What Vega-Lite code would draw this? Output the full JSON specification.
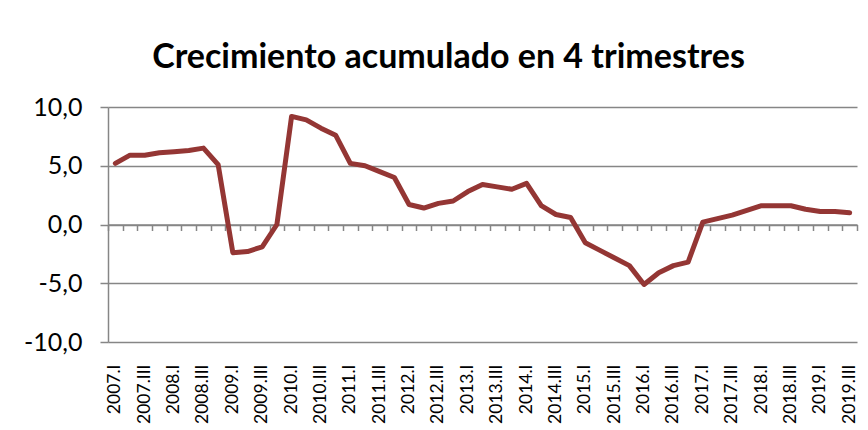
{
  "$schema": "https://vega.github.io/schema/vega-lite/v6.json",
  "width": 749,
  "height": 235,
  "autosize": "none",
  "padding": {"left": 108, "top": 107, "right": 11, "bottom": 88},
  "background": "white",
  "title": {
    "text": "Crecimiento acumulado en 4 trimestres",
    "font": "Lato",
    "fontSize": 34,
    "fontWeight": "bold",
    "color": "black",
    "anchor": "middle",
    "dx": -34,
    "offset": 20
  },
  "config": {
    "view": {"stroke": null},
    "axis": {"labelFont": "Lato", "labelColor": "black"}
  },
  "data": {
    "values": [
      {"q": "2007.I", "v": 5.2}, {"q": "2007.II", "v": 5.9}, {"q": "2007.III", "v": 5.9}, {"q": "2007.IV", "v": 6.1},
      {"q": "2008.I", "v": 6.2}, {"q": "2008.II", "v": 6.3}, {"q": "2008.III", "v": 6.5}, {"q": "2008.IV", "v": 5.1},
      {"q": "2009.I", "v": -2.4}, {"q": "2009.II", "v": -2.3}, {"q": "2009.III", "v": -1.9}, {"q": "2009.IV", "v": 0.0},
      {"q": "2010.I", "v": 9.2}, {"q": "2010.II", "v": 8.9}, {"q": "2010.III", "v": 8.2}, {"q": "2010.IV", "v": 7.6},
      {"q": "2011.I", "v": 5.2}, {"q": "2011.II", "v": 5.0}, {"q": "2011.III", "v": 4.5}, {"q": "2011.IV", "v": 4.0},
      {"q": "2012.I", "v": 1.7}, {"q": "2012.II", "v": 1.4}, {"q": "2012.III", "v": 1.8}, {"q": "2012.IV", "v": 2.0},
      {"q": "2013.I", "v": 2.8}, {"q": "2013.II", "v": 3.4}, {"q": "2013.III", "v": 3.2}, {"q": "2013.IV", "v": 3.0},
      {"q": "2014.I", "v": 3.5}, {"q": "2014.II", "v": 1.6}, {"q": "2014.III", "v": 0.85}, {"q": "2014.IV", "v": 0.6},
      {"q": "2015.I", "v": -1.55}, {"q": "2015.II", "v": -2.2}, {"q": "2015.III", "v": -2.85}, {"q": "2015.IV", "v": -3.5},
      {"q": "2016.I", "v": -5.1}, {"q": "2016.II", "v": -4.1}, {"q": "2016.III", "v": -3.5}, {"q": "2016.IV", "v": -3.2},
      {"q": "2017.I", "v": 0.2}, {"q": "2017.II", "v": 0.5}, {"q": "2017.III", "v": 0.8}, {"q": "2017.IV", "v": 1.2},
      {"q": "2018.I", "v": 1.6}, {"q": "2018.II", "v": 1.6}, {"q": "2018.III", "v": 1.6}, {"q": "2018.IV", "v": 1.3},
      {"q": "2019.I", "v": 1.1}, {"q": "2019.II", "v": 1.1}, {"q": "2019.III", "v": 1.0}
    ]
  },
  "encoding": {
    "y": {
      "field": "v", "type": "quantitative",
      "scale": {"domain": [-10, 10], "nice": false, "zero": false},
      "axis": {
        "title": null, "values": [-10, -5, 0, 5, 10],
        "labelExpr": "replace(replace(format(datum.value, '.1f'), '.', ','), '\u2212', '-')",
        "labelFontSize": 25, "labelPadding": 18,
        "domain": true, "domainColor": "#868686", "domainWidth": 1.5,
        "ticks": true, "tickColor": "#868686", "tickWidth": 1.5, "tickSize": 8,
        "grid": true, "gridColor": "#868686", "gridWidth": 1.5
      }
    }
  },
  "layer": [
    {
      "mark": {"type": "line", "strokeOpacity": 0},
      "encoding": {
        "x": {
          "field": "q", "type": "ordinal", "sort": null,
          "scale": {"type": "band", "paddingInner": 0, "paddingOuter": 0},
          "axis": {
            "orient": "bottom",
            "title": null, "labels": false, "domain": true, "domainColor": "#868686", "domainWidth": 1.5,
            "ticks": true, "tickColor": "#868686", "tickWidth": 1.5, "tickSize": 6, "tickBand": "extent",
            "grid": false, "offset": -117.5
          }
        }
      }
    },
    {
      "mark": {"type": "line", "color": "#943634", "strokeWidth": 5, "strokeJoin": "round", "strokeCap": "round"},
      "encoding": {
        "x": {
          "field": "q", "type": "ordinal", "sort": null,
          "axis": {
            "orient": "bottom",
            "title": null, "domain": false, "ticks": false, "tickSize": 0, "grid": false,
            "labelAngle": -90, "labelFontSize": 17.5, "labelPadding": 22,
            "values": ["2007.I","2007.III","2008.I","2008.III","2009.I","2009.III","2010.I","2010.III","2011.I","2011.III","2012.I","2012.III","2013.I","2013.III","2014.I","2014.III","2015.I","2015.III","2016.I","2016.III","2017.I","2017.III","2018.I","2018.III","2019.I","2019.III"]
          }
        }
      }
    }
  ],
  "resolve": {"axis": {"x": "independent"}}
}
